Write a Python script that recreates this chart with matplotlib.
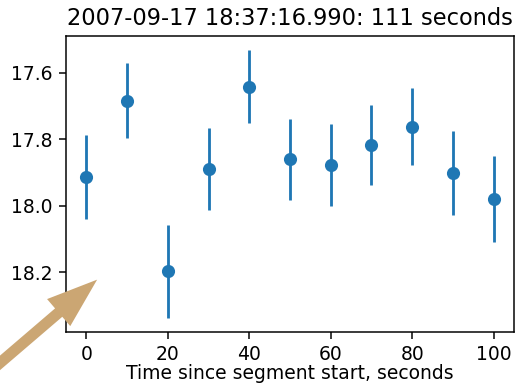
import numpy as np
import matplotlib
matplotlib.use("Agg")
import matplotlib.pyplot as plt

# offsets in seconds, magnitudes and their errors
t_sec = [0, 10, 20, 30, 40, 50, 60, 70, 80, 90, 100]
mag = [17.913, 17.684, 18.196, 17.889, 17.642, 17.859, 17.877, 17.817, 17.762, 17.901, 17.979]
mag_err = [0.125, 0.113, 0.14, 0.124, 0.11, 0.122, 0.122, 0.12, 0.116, 0.125, 0.129]

TITLE = "2007-09-17 18:37:16.990: 111 seconds"
DPI = 135

fig = plt.figure(figsize=(516 / DPI, 384 / DPI), dpi=DPI)
ax = fig.add_axes([0.128, 0.135, 0.868, 0.771])
ax.errorbar(t_sec, mag, yerr=mag_err, fmt="o")
ax.set_ylim(18.38, 17.489)
ax.set_xlabel("Time since segment start, seconds")
ax.xaxis.set_label_coords(0.5, -0.108)
ax.set_title(TITLE)

# pointer arrow coming in from the lower-left corner
ax.annotate("", xy=(2.63, 18.222), xycoords="data",
            xytext=(-20, 4), textcoords="figure pixels",
            arrowprops=dict(facecolor="#cba673", edgecolor="none",
                            width=5.9, headwidth=19, headlength=27))

fig.savefig("out.png", dpi=DPI)
